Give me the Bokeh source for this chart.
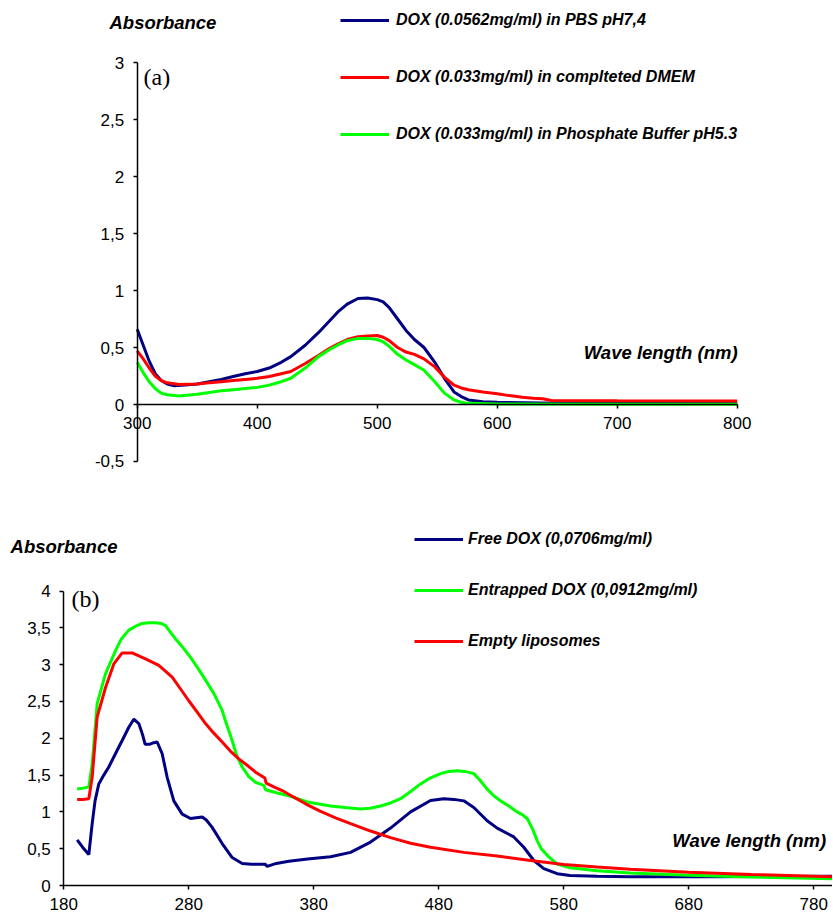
from bokeh.plotting import figure
from bokeh.models import Range1d, FixedTicker, Legend, LegendItem, Label
from bokeh.layouts import column
from bokeh.embed import file_html
from bokeh.resources import INLINE

# ---------------- Panel (a) data ----------------
a_blue_x = [300, 305, 310, 315, 320, 325, 331, 340, 350, 360, 370, 380, 390, 400, 410, 420, 428, 440,
            451, 460, 467, 475, 484, 492, 500, 505, 510, 517, 524, 531, 539, 548, 556, 564, 570, 576,
            588, 600, 650, 700, 800]
a_blue_y = [0.66, 0.52, 0.38, 0.27, 0.21, 0.18, 0.165, 0.17, 0.18, 0.20, 0.22, 0.245, 0.27, 0.29, 0.32,
            0.37, 0.42, 0.52, 0.63, 0.73, 0.81, 0.88, 0.93, 0.935, 0.92, 0.90, 0.85, 0.75, 0.65, 0.57,
            0.50, 0.37, 0.23, 0.11, 0.07, 0.04, 0.025, 0.02, 0.012, 0.01, 0.01]

a_red_x = [300, 305, 310, 315, 320, 325, 335, 350, 360, 370, 380, 390, 400, 410, 420, 428, 440, 451,
           460, 467, 475, 484, 492, 500, 505, 510, 517, 524, 531, 539, 548, 556, 564, 570, 576, 588,
           600, 610, 621, 630, 638, 645, 700, 800]
a_red_y = [0.47, 0.40, 0.32, 0.25, 0.21, 0.19, 0.175, 0.18, 0.19, 0.20, 0.21, 0.22, 0.23, 0.245, 0.27,
           0.29, 0.36, 0.43, 0.49, 0.53, 0.57, 0.595, 0.60, 0.605, 0.59, 0.56, 0.50, 0.46, 0.44, 0.40,
           0.33, 0.24, 0.17, 0.145, 0.13, 0.11, 0.095, 0.078, 0.063, 0.055, 0.05, 0.035, 0.032, 0.03]

a_green_x = [300, 305, 310, 315, 320, 325, 335, 350, 360, 370, 380, 390, 400, 410, 420, 428, 440, 451,
             460, 467, 475, 484, 492, 500, 505, 510, 517, 524, 531, 539, 548, 556, 564, 570, 576, 600,
             700, 800]
a_green_y = [0.37, 0.28, 0.20, 0.14, 0.10, 0.085, 0.075, 0.09, 0.105, 0.12, 0.13, 0.14, 0.15, 0.17,
             0.20, 0.23, 0.32, 0.42, 0.48, 0.52, 0.56, 0.58, 0.58, 0.57, 0.55, 0.51, 0.44, 0.39, 0.35,
             0.30, 0.20, 0.10, 0.04, 0.02, 0.01, 0.004, 0.003, 0.003]

a_labels = ["DOX (0.0562mg/ml) in PBS pH7,4",
            "DOX (0.033mg/ml) in complteted DMEM",
            "DOX (0.033mg/ml) in Phosphate Buffer pH5.3"]
a_xticks = [300, 400, 500, 600, 700, 800]
a_xtick_labels = ["300", "400", "500", "600", "700", "800"]
a_yticks = [-0.5, 0, 0.5, 1, 1.5, 2, 2.5, 3]
a_ytick_labels = ["-0,5", "0", "0,5", "1", "1,5", "2", "2,5", "3"]

# ---------------- Panel (b) data ----------------
b_blue_x = [190.7, 195, 200, 202.7, 205, 208, 212, 216, 221, 226.7, 232, 236, 240, 243, 245, 249, 252,
            254.7, 258.7, 262.7, 268, 274.7, 281.4, 286, 290.7, 294, 298.7, 306.7, 314.7, 322.7, 330,
            341, 342.7, 350, 360, 375, 393.4, 409.4, 425.4, 441.4, 457.4, 473.4, 484, 492, 500, 508,
            518.7, 526.7, 540, 548, 556, 564, 574.7, 585, 606.7, 633, 700, 795]
b_blue_y = [0.62, 0.52, 0.42, 0.84, 1.15, 1.38, 1.50, 1.61, 1.78, 1.97, 2.15, 2.26, 2.20, 2.05, 1.92,
            1.92, 1.94, 1.95, 1.79, 1.47, 1.15, 0.97, 0.91, 0.92, 0.93, 0.89, 0.79, 0.57, 0.38, 0.30,
            0.29, 0.29, 0.26, 0.30, 0.33, 0.36, 0.39, 0.45, 0.59, 0.78, 1.00, 1.155, 1.18, 1.17, 1.15,
            1.06, 0.88, 0.78, 0.66, 0.52, 0.34, 0.23, 0.16, 0.136, 0.127, 0.12, 0.12, 0.125]

b_green_x = [190.7, 195, 200, 202.7, 206.7, 213.4, 221.4, 226, 232, 237, 242.7, 248, 253.4, 258, 261.4,
             265, 269.4, 275, 281.4, 287, 293.4, 300, 306.7, 310, 314.7, 318, 322.7, 328, 333.4, 340,
             341.4, 350, 360, 376, 393.4, 405, 417.4, 425, 433.4, 441, 449.4, 457, 465.4, 473, 481.4,
             488, 494.7, 501, 508, 513, 518.7, 524, 529.4, 536, 542.7, 547, 550.7, 555, 558.7, 562,
             566.7, 574.7, 585, 606.7, 633, 680, 730, 795]
b_green_y = [1.31, 1.32, 1.34, 1.65, 2.47, 2.88, 3.19, 3.35, 3.47, 3.52, 3.56, 3.57, 3.57, 3.56, 3.53,
             3.45, 3.35, 3.24, 3.10, 2.96, 2.79, 2.61, 2.38, 2.20, 1.97, 1.78, 1.61, 1.48, 1.40, 1.36,
             1.30, 1.26, 1.22, 1.13, 1.08, 1.06, 1.04, 1.05, 1.08, 1.12, 1.18, 1.27, 1.38, 1.46, 1.52,
             1.55, 1.56, 1.55, 1.52, 1.43, 1.31, 1.22, 1.15, 1.08, 1.00, 0.96, 0.91, 0.77, 0.61, 0.50,
             0.41, 0.29, 0.24, 0.20, 0.17, 0.14, 0.115, 0.09]

b_red_x = [190.7, 195, 200, 202.7, 206.7, 213.4, 220, 226.7, 234.7, 240, 245.4, 256, 266.7, 273, 280,
           287, 293.4, 300, 306.7, 313, 320, 327, 333.4, 340.9, 341.9, 348, 354.7, 364, 373.4, 385,
           397.4, 409.4, 425.4, 441.4, 457.4, 473.4, 500, 526.7, 553.4, 580, 606.7, 633, 680, 730, 795]
b_red_y = [1.17, 1.17, 1.18, 1.47, 2.29, 2.69, 3.01, 3.16, 3.16, 3.12, 3.08, 2.99, 2.83, 2.68, 2.51,
           2.35, 2.20, 2.07, 1.95, 1.83, 1.72, 1.63, 1.54, 1.46, 1.39, 1.34, 1.29, 1.20, 1.11, 1.01,
           0.92, 0.84, 0.74, 0.65, 0.575, 0.52, 0.45, 0.40, 0.34, 0.285, 0.25, 0.22, 0.18, 0.15, 0.12]

b_labels = ["Free DOX (0,0706mg/ml)", "Entrapped DOX (0,0912mg/ml)", "Empty liposomes"]
b_xticks = [180, 280, 380, 480, 580, 680, 780]
b_xtick_labels = ["180", "280", "380", "480", "580", "680", "780"]
b_yticks = [0, 0.5, 1, 1.5, 2, 2.5, 3, 3.5, 4]
b_ytick_labels = ["0", "0,5", "1", "1,5", "2", "2,5", "3", "3,5", "4"]

NAVY = "#000080"
RED = "#ff0000"
GREEN = "#00ff00"
FONT = "Liberation Sans"
TICK_SIZE = "17px"
W = 832
H1 = 505
H2 = 409


def style_axes(p, xticks, xlabels, yticks, ylabels, x_fixed, y_fixed, x_bounds, y_bounds):
    p.xgrid.visible = False
    p.ygrid.visible = False
    p.outline_line_color = None
    p.background_fill_color = "white"
    p.border_fill_color = "white"
    xa, ya = p.xaxis[0], p.yaxis[0]
    xa.fixed_location = x_fixed
    ya.fixed_location = y_fixed
    xa.bounds = x_bounds
    ya.bounds = y_bounds
    for ax, ticks, labels, so in ((xa, xticks, xlabels, 8), (ya, yticks, ylabels, 9)):
        ax.ticker = FixedTicker(ticks=ticks)
        ax.major_label_overrides = {t: l for t, l in zip(ticks, labels)}
        ax.axis_line_color = "black"
        ax.axis_line_width = 1.5
        ax.major_tick_line_color = "black"
        ax.major_tick_line_width = 1.5
        ax.major_tick_in = 0
        ax.major_tick_out = 4
        ax.minor_tick_line_color = None
        ax.major_label_text_font = FONT
        ax.major_label_text_font_size = TICK_SIZE
        ax.major_label_text_color = "black"
        ax.major_label_standoff = so


def add_text(p, x, y, text, size, style, font=FONT, align="left"):
    p.add_layout(Label(x=x, y=y, text=text, text_font=font, text_font_size=size,
                       text_font_style=style, text_align=align, text_baseline="middle",
                       text_color="black"))


def style_legend(lg, spacing, standoff):
    lg.margin = 0
    lg.padding = 0
    lg.border_line_color = None
    lg.background_fill_alpha = 0
    lg.glyph_width = 49
    lg.glyph_height = 20
    lg.label_height = 20
    lg.spacing = spacing
    lg.label_standoff = standoff
    lg.label_text_font = FONT
    lg.label_text_font_style = "bold italic"
    lg.label_text_font_size = "16px"
    lg.label_text_color = "black"


# ---------------- Figure (a) ----------------
p1 = figure(width=W, height=H1, x_range=Range1d(186.08, 879.4), y_range=Range1d(-0.886, 3.544),
            output_backend="svg", toolbar_location=None,
            min_border_left=0, min_border_right=0, min_border_top=0, min_border_bottom=0)
style_axes(p1, a_xticks, a_xtick_labels, a_yticks, a_ytick_labels, 0, 300, (300, 800), (-0.5, 3))

ra1 = p1.line(a_blue_x, a_blue_y, line_color=NAVY, line_width=3)
ra2 = p1.line(a_red_x, a_red_y, line_color=RED, line_width=3)
ra3 = p1.line(a_green_x, a_green_y, line_color=GREEN, line_width=3)

leg1 = Legend(items=[LegendItem(label=a_labels[0], renderers=[ra1]),
                     LegendItem(label=a_labels[1], renderers=[ra2]),
                     LegendItem(label=a_labels[2], renderers=[ra3])],
              location=(340, 361), orientation="vertical")
style_legend(leg1, 37, 7)
p1.add_layout(leg1)

add_text(p1, 276.9, 3.351, "Absorbance", "18.5px", "bold italic")
add_text(p1, 305.3, 2.877, "(a)", "24px", "normal", font="Liberation Serif")
add_text(p1, 800.3, 0.456, "Wave length (nm)", "18.5px", "bold italic", align="right")

# ---------------- Figure (b) ----------------
p2 = figure(width=W, height=H2, x_range=Range1d(129.36, 794.96), y_range=Range1d(-0.394, 5.163),
            output_backend="svg", toolbar_location=None,
            min_border_left=0, min_border_right=0, min_border_top=0, min_border_bottom=0)
style_axes(p2, b_xticks, b_xtick_labels, b_yticks, b_ytick_labels, 0, 180, (180, 800), (0, 4))

rb1 = p2.line(b_blue_x, b_blue_y, line_color=NAVY, line_width=3)
rb2 = p2.line(b_green_x, b_green_y, line_color=GREEN, line_width=3)
rb3 = p2.line(b_red_x, b_red_y, line_color=RED, line_width=3)

leg2 = Legend(items=[LegendItem(label=b_labels[0], renderers=[rb1]),
                     LegendItem(label=b_labels[1], renderers=[rb2]),
                     LegendItem(label=b_labels[2], renderers=[rb3])],
              location=(414, 263), orientation="vertical")
style_legend(leg2, 31, 5)
p2.add_layout(leg2)

add_text(p2, 137.4, 4.606, "Absorbance", "18.5px", "bold italic")
add_text(p2, 186.2, 3.886, "(b)", "24px", "normal", font="Liberation Serif")
add_text(p2, 794.0, 0.611, "Wave length  (nm)", "18.5px", "bold italic", align="right")

layout = column(p1, p2, spacing=0)
open("out.html", "w").write(file_html(layout, INLINE))
